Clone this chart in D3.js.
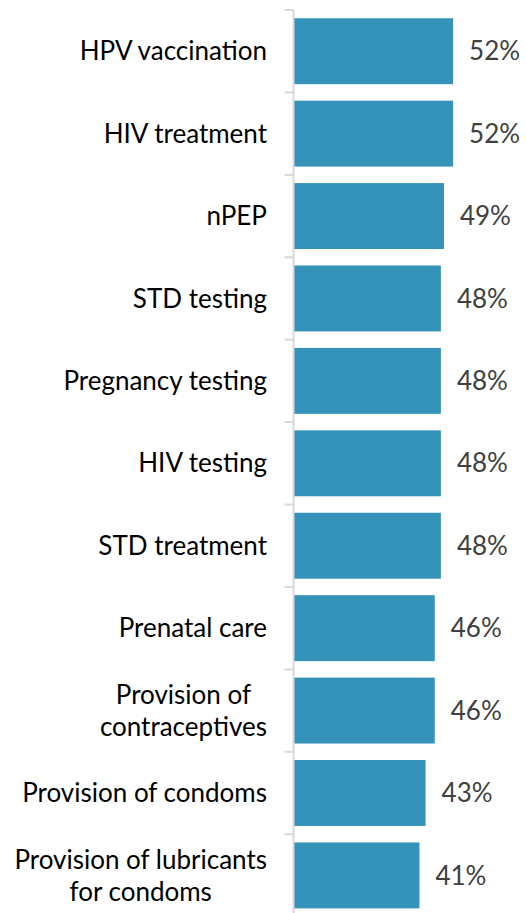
<!DOCTYPE html>
<html>
<head>
<meta charset="utf-8">
<script src="https://cdn.jsdelivr.net/npm/d3@7"></script>
<style>
  html, body { margin: 0; padding: 0; background: #fff; }
  svg { display: block; }
</style>
</head>
<body>
<svg id="chart" width="526" height="913"></svg>
<script>
// Services offered, share of respondents (%)
const categories = [
  "HPV vaccination",
  "HIV treatment",
  "nPEP",
  "STD testing",
  "Pregnancy testing",
  "HIV testing",
  "STD treatment",
  "Prenatal care",
  "Provision of contraceptives",
  "Provision of condoms",
  "Provision of lubricants for condoms"
];
const values = [52, 52, 49, 48, 48, 48, 48, 46, 46, 43, 41];
// Category names that wrap onto two lines
const labelLines = {
  "Provision of contraceptives": ["Provision of", "contraceptives"],
  "Provision of lubricants for condoms": ["Provision of lubricants", "for condoms"]
};

const svg = d3.select("#chart");
const font = "Lato, 'Open Sans', sans-serif";
const axisX = 293.5;
const labelRight = 267;

const x = d3.scaleLinear().domain([0, 100]).range([294, 294 + 306]);
const y = d3.scaleBand()
  .domain(categories)
  .range([10, 10 + 82.42 * 11])
  .paddingInner(0.2)
  .paddingOuter(0.1);

const step = y.step();
const data = categories.map((c, i) => ({ cat: c, value: values[i] }));

// Bars
svg.append("g").selectAll("rect")
  .data(data)
  .join("rect")
  .attr("x", x(0))
  .attr("y", d => y(d.cat))
  .attr("width", d => x(d.value) - x(0))
  .attr("height", y.bandwidth())
  .attr("fill", "#3593BA");

// Vertical axis with category separators
const axis = svg.append("g").attr("stroke", "#d9d9d9").attr("stroke-width", 2);
const axisTop = y(categories[0]) - step * 0.1;
axis.append("line")
  .attr("x1", axisX).attr("x2", axisX)
  .attr("y1", axisTop).attr("y2", axisTop + step * categories.length);
axis.selectAll("line.tick")
  .data(d3.range(categories.length + 1))
  .join("line")
  .attr("class", "tick")
  .attr("x1", axisX - 9).attr("x2", axisX)
  .attr("y1", i => axisTop + i * step)
  .attr("y2", i => axisTop + i * step);

// Value labels
svg.append("g").selectAll("text")
  .data(data)
  .join("text")
  .attr("x", d => x(d.value) + 16)
  .attr("y", d => y(d.cat) + y.bandwidth() / 2)
  .attr("dy", "0.35em")
  .attr("font-family", font)
  .attr("font-size", 26)
  .attr("fill", "#404040")
  .text(d => d.value + "%");

// Category labels (multi-line ones are centred within a right-aligned block)
const lineH = 32;
const catG = svg.append("g");
data.forEach(d => {
  const lines = labelLines[d.cat] || [d.cat];
  const cy = y(d.cat) + y.bandwidth() / 2;
  const t = catG.append("text")
    .attr("font-family", font)
    .attr("font-size", 26)
    .attr("fill", "#000");
  lines.forEach((ln, j) => {
    t.append("tspan")
      .attr("y", cy + (j - (lines.length - 1) / 2) * lineH)
      .attr("dy", "0.35em")
      .text(ln);
  });
  const widths = t.selectAll("tspan").nodes().map(s => s.getComputedTextLength());
  const maxW = d3.max(widths);
  const center = labelRight - maxW / 2;
  t.selectAll("tspan").attr("x", center).attr("text-anchor", "middle");
});
</script>
</body>
</html>
